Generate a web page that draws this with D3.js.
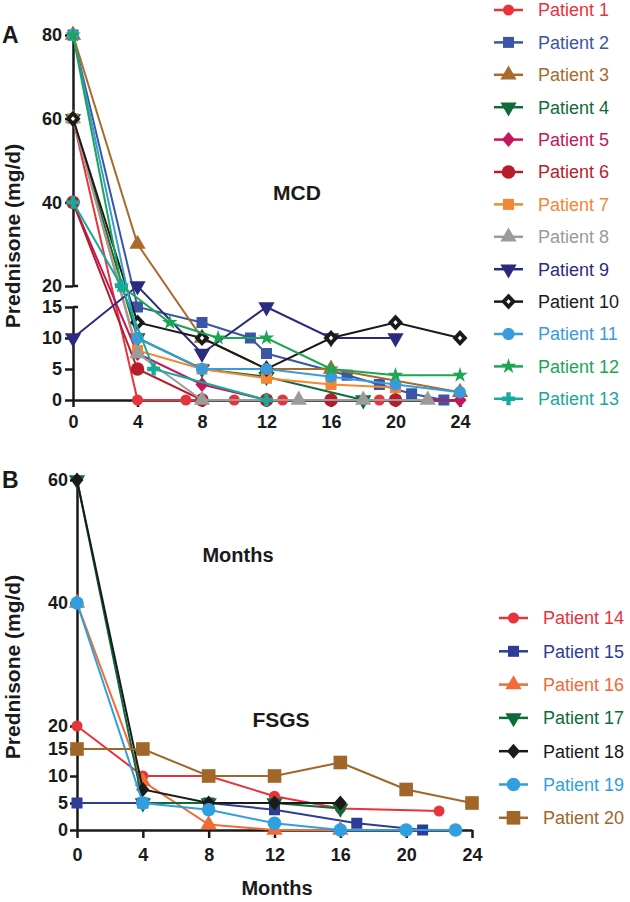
<!DOCTYPE html>
<html>
<head>
<meta charset="utf-8">
<script src="https://d3js.org/d3.v7.min.js"></script>
<title>Prednisone taper</title>
<style>
  body { margin: 0; background: #fff }
  svg { font-family: "Liberation Sans", Arial, sans-serif }
</style>
</head>
<body>
<script>
// ---- data: [month, prednisone mg/d] ----
// panel A, MCD
const p1  = [[0,60],[4,0],[7,0],[10,0],[13,0],[19,0]]
const p2  = [[0,80],[4,15],[8,12.5],[11,10],[12,7.5],[17,4],[19,2.5],[21,1],[23,0]]
const p3  = [[0,80],[4,30],[8,10],[12,5],[16,5],[24,1.25]]
const p4  = [[0,60],[4,10],[8,5],[12,3.75],[18,0]]
const p5  = [[0,40],[4,7.5],[8,2.5],[12,0],[16,0],[20,0],[24,0]]
const p6  = [[0,40],[4,5],[8,0],[12,0],[16,0],[20,0]]
const p7  = [[0,60],[4,8],[8,5],[12,3.5],[16,2.5],[20,2]]
const p8  = [[0,60],[4,7.5],[8,0],[14,0],[18,0],[22,0]]
const p9  = [[0,10],[4,20],[8,7.5],[12,15],[16,10],[20,10]]
const p10 = [[0,60],[4,12.5],[8,10],[12,5],[16,10],[20,12.5],[24,10]]
const p11 = [[0,80],[4,10],[8,5],[12,5],[16,3.75],[20,2.5],[24,1.25]]
const p12 = [[0,80],[3,20],[6,12.5],[9,10],[12,10],[16,5],[20,4],[24,4]]
const p13 = [[0,40],[3,20],[5,5],[12,0]]

// panel B, FSGS
const p14 = [[0,20],[4,10],[8,10],[12,6.25],[16,4],[22,3.5]]
const p15 = [[0,5],[4,5],[8,5],[12,3.75],[17,1.25],[21,0]]
const p16 = [[0,40],[4,9],[8,1],[12,0],[16,0]]
const p17 = [[0,60],[4,5],[8,5],[12,5],[16,4]]
const p18 = [[0,60],[4,7.5],[8,5],[12,5],[16,5]]
const p19 = [[0,40],[4,5],[8,3.75],[12,1.25],[16,0],[20,0],[23,0]]
const p20 = [[0,15],[4,15],[8,10],[12,10],[16,12.5],[20,7.5],[24,5]]

const mcdNames = ['Patient 1','Patient 2','Patient 3','Patient 4','Patient 5','Patient 6','Patient 7',
                  'Patient 8','Patient 9','Patient 10','Patient 11','Patient 12','Patient 13']
const mcdSeries = [p1,p2,p3,p4,p5,p6,p7,p8,p9,p10,p11,p12,p13]
const mcdColors = ['#e8323c','#3a56a5','#a86b2c','#0e6b3b','#c2185b','#b71c2a','#f58634',
                   '#9b9b9b','#2b2b7d','#1a1a1a','#3b9bd8','#1ca653','#17a99a']
const mcdSymbols = ['circle','square','triangle','triangleDown','diamond','bigCircle','square',
                    'triangle','triangleDown','openDiamond','burst','star','cross']

const fsgsNames = ['Patient 14','Patient 15','Patient 16','Patient 17','Patient 18','Patient 19','Patient 20']
const fsgsSeries = [p14,p15,p16,p17,p18,p19,p20]
const fsgsColors = ['#e8323c','#2e3c98','#f26a35','#0d6b3a','#1a1a1a','#2f9fe0','#a0662a']
const fsgsSymbols = ['circle','square','triangle','triangleDown','diamond','bigCircle','bigSquare']

const monthTicks = [0,4,8,12,16,20,24]
const lowTicks = [0,5,10,15]
const highTicksA = [20,40,60,80]
const highTicksB = [20,40,60]

const width = 630
const height = 902

const svg = d3.select('body').append('svg')
    .attr('width', width)
    .attr('height', height)

/* diamond as a path, a bit wider than d3's */
const diamondPath = (w, h) => `M0,${-h}L${w},0L0,${h}L${-w},0Z`

/* draw one marker at (cx, cy) */
const marker = (g, type, color, cx, cy) => {
    const m = g.append('g').attr('transform', `translate(${cx},${cy})`)
    const sym = (t, size) => m.append('path').attr('d', d3.symbol().type(t).size(size)()).attr('fill', color)
    switch (type) {
        case 'circle': m.append('circle').attr('r', 5.5).attr('fill', color); break
        case 'bigCircle': m.append('circle').attr('r', 6.8).attr('fill', color); break
        case 'square': m.append('rect').attr('x', -5.5).attr('y', -5.5).attr('width', 11).attr('height', 11).attr('fill', color); break
        case 'bigSquare': m.append('rect').attr('x', -6.8).attr('y', -6.8).attr('width', 13.6).attr('height', 13.6).attr('fill', color); break
        case 'triangle': sym(d3.symbolTriangle, 115); break
        case 'triangleDown': sym(d3.symbolTriangle, 115).attr('transform', 'rotate(180)'); break
        case 'diamond': m.append('path').attr('d', diamondPath(6.5, 7.5)).attr('fill', color); break
        case 'openDiamond':
            m.append('path').attr('d', diamondPath(7.5, 8)).attr('fill', color)
            m.append('path').attr('d', diamondPath(2.2, 2.4)).attr('fill', '#fff')
            break
        case 'burst':
            m.append('circle').attr('r', 4.6).attr('fill', color)
            sym(d3.symbolCross, 80)
            sym(d3.symbolCross, 80).attr('transform', 'rotate(45)')
            break
        case 'star': sym(d3.symbolStar, 75); break
        case 'cross': sym(d3.symbolCross, 95); break
    }
}

const styleAxis = (g, fontSize) => {
    g.select('.domain').attr('stroke', '#1a1a1a').attr('stroke-width', 2.5)
    g.selectAll('.tick line').attr('stroke', '#1a1a1a').attr('stroke-width', 2.5)
    g.selectAll('.tick text')
        .attr('fill', '#1a1a1a')
        .style('font-size', fontSize + 'px')
        .style('font-weight', 'bold')
        .style('font-family', '"Liberation Sans", Arial, sans-serif')
}

/* one panel with broken y axis */
const panel = cfg => {
    const g = svg.append('g')
    const x = d3.scaleLinear().domain([0, 24]).range(cfg.xRange)
    const yLo = d3.scaleLinear().domain([0, 15]).range(cfg.yLoRange)
    const yHi = d3.scaleLinear().domain([20, cfg.yMax]).range(cfg.yHiRange)
    const y = v => v <= 15 ? yLo(v) : (v >= 20 ? yHi(v) : yLo(15) + (v - 15) / 5 * (yHi(20) - yLo(15)))
    const x0 = cfg.xRange[0]

    const xAxis = g.append('g')
        .attr('transform', `translate(0,${cfg.yLoRange[0]})`)
        .call(d3.axisBottom(x).tickValues(monthTicks).tickSize(cfg.xTick).tickSizeOuter(0).tickPadding(cfg.xPad))
    styleAxis(xAxis, cfg.font)

    const yAxisLo = g.append('g')
        .attr('transform', `translate(${x0},0)`)
        .call(d3.axisLeft(yLo).tickValues(lowTicks).tickSize(cfg.yTick).tickSizeOuter(0).tickPadding(cfg.yPad))
    styleAxis(yAxisLo, cfg.font)

    const yAxisHi = g.append('g')
        .attr('transform', `translate(${x0},0)`)
        .call(d3.axisLeft(yHi).tickValues(cfg.highTicks).tickSize(cfg.yTick).tickSizeOuter(0).tickPadding(cfg.yPad))
    styleAxis(yAxisHi, cfg.font)

    if (cfg.gap) {
        // small caps at the axis break
        [yLo(15), yHi(20)].forEach(yy => {
            g.append('line')
                .attr('x1', x0).attr('x2', x0 + 5)
                .attr('y1', yy).attr('y2', yy)
                .attr('stroke', '#1a1a1a').attr('stroke-width', 2.5)
        })
    } else {
        g.append('line')
            .attr('x1', x0 + 0.5).attr('x2', x0 + 0.5)
            .attr('y1', yLo(15)).attr('y2', yHi(20))
            .attr('stroke', '#1a1a1a').attr('stroke-width', 2.5)
    }

    const line = d3.line().x(d => x(d[0])).y(d => y(d[1]))

    cfg.series.forEach((s, i) => {
        const c = cfg.colors[i]
        g.append('path')
            .attr('d', line(s))
            .attr('fill', 'none')
            .attr('stroke', c)
            .attr('stroke-width', 2)
        s.forEach(d => marker(g, cfg.symbols[i], c, x(d[0]), y(d[1])))
    })

    // legend
    cfg.names.forEach((n, i) => {
        const ly = cfg.legY + i * cfg.legStep
        const c = cfg.colors[i]
        g.append('line')
            .attr('x1', cfg.legX).attr('x2', cfg.legX + 29)
            .attr('y1', ly).attr('y2', ly)
            .attr('stroke', c).attr('stroke-width', 2.5)
        marker(g, cfg.symbols[i], c, cfg.legX + 14.5, ly)
        g.append('text')
            .attr('x', cfg.legX + 44)
            .attr('y', ly)
            .attr('dy', '0.36em')
            .attr('fill', c)
            .style('font-size', '18px')
            .text(n)
    })

    // titles
    g.append('text')
        .attr('x', 2).attr('y', cfg.letterY)
        .style('font-size', '23px').style('font-weight', 'bold')
        .attr('fill', '#1a1a1a')
        .text(cfg.letter)
    g.append('text')
        .attr('transform', `translate(20,${cfg.yLabelY}) rotate(-90)`)
        .attr('text-anchor', 'middle')
        .style('font-size', '21px').style('font-weight', 'bold')
        .attr('fill', '#1a1a1a')
        .text('Prednisone (mg/d)')
    g.append('text')
        .attr('x', cfg.title[0]).attr('y', cfg.title[1])
        .attr('text-anchor', 'middle')
        .style('font-size', '21px').style('font-weight', 'bold')
        .attr('fill', '#1a1a1a')
        .text(cfg.titleText)
    g.append('text')
        .attr('x', cfg.months[0]).attr('y', cfg.months[1])
        .attr('text-anchor', 'middle')
        .style('font-size', '20px').style('font-weight', 'bold')
        .attr('fill', '#1a1a1a')
        .text('Months')
}

panel({
    xRange: [73, 460], yLoRange: [400, 307], yHiRange: [286, 35], yMax: 80,
    highTicks: highTicksA, gap: true,
    xTick: 7, xPad: 8, yTick: 8, yPad: 3, font: 18,
    series: mcdSeries, colors: mcdColors, symbols: mcdSymbols, names: mcdNames,
    legX: 494, legY: 10, legStep: 32.4,
    letter: 'A', letterY: 43, yLabelY: 236,
    titleText: 'MCD', title: [297, 200], months: [238, 562]
})

panel({
    xRange: [77, 472], yLoRange: [830, 749], yHiRange: [726, 480], yMax: 60,
    highTicks: highTicksB, gap: false,
    xTick: 8, xPad: 10, yTick: 7, yPad: 2, font: 18,
    series: fsgsSeries, colors: fsgsColors, symbols: fsgsSymbols, names: fsgsNames,
    legX: 499, legY: 618, legStep: 33.3,
    letter: 'B', letterY: 488, yLabelY: 667,
    titleText: 'FSGS', title: [281, 727], months: [277, 895]
})
</script>
</body>
</html>
